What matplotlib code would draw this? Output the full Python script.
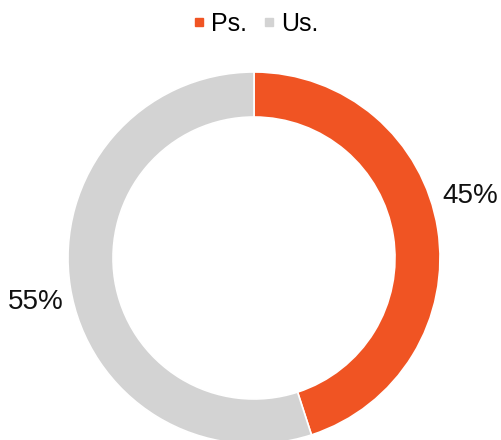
import matplotlib
matplotlib.use("Agg")
import matplotlib.pyplot as plt
from matplotlib.lines import Line2D

categories = ["Ps.", "Us."]
values = [45, 55]
colors = ["#F05423", "#D3D3D3"]

plt.rcParams['font.family'] = ['Liberation Sans', 'DejaVu Sans']

W, H = 501, 440
fig = plt.figure(figsize=(W / 100, H / 100), dpi=100)
ax = fig.add_axes([0, 0, 1, 1])

cx, cy, R = 254, H - 258, 186
ax.pie(values, colors=colors, startangle=90, counterclock=False,
       center=(cx, cy), radius=R,
       wedgeprops=dict(width=45, edgecolor="white", linewidth=1.2))
ax.set_xlim(0, W)
ax.set_ylim(0, H)
ax.set_aspect("equal")
ax.axis("off")

label_pos = [(470, H - 196), (36, H - 302)]
for v, (x, y) in zip(values, label_pos):
    ax.text(x, y, f"{v}%", fontsize=20, ha="center", va="center", color="#111111")

handles = [Line2D([], [], marker="s", linestyle="none", markersize=6,
                  markerfacecolor=c, markeredgecolor=c) for c in colors]
fig.legend(handles, categories, loc="upper center", bbox_to_anchor=(0.51, 1.025),
           ncol=2, frameon=False, fontsize=18, handlelength=0.5,
           handletextpad=0.25, columnspacing=0.6)

fig.savefig("out.png", dpi=100)
